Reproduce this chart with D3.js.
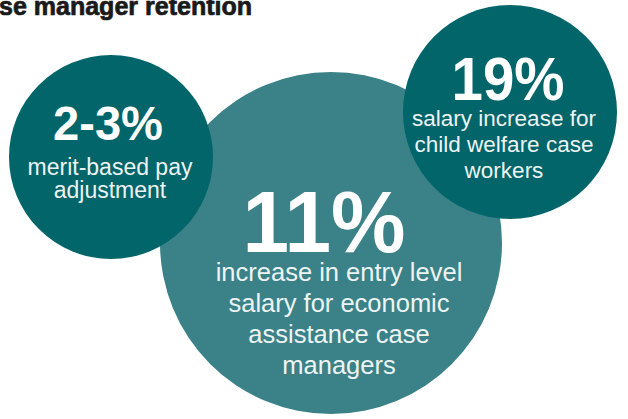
<!DOCTYPE html>
<html>
<head>
<meta charset="utf-8">
<script src="https://cdn.jsdelivr.net/npm/d3@7"></script>
<style>
  html, body { margin: 0; padding: 0; background: #ffffff; }
  svg { display: block; }
</style>
</head>
<body>
<svg id="chart" width="628" height="419"></svg>
<script>
// ---- data ----
const title = "se manager retention";
const stats = ["11%", "2-3%", "19%"];
const descriptions = [
  ["increase in entry level", "salary for economic", "assistance case", "managers"],
  ["merit-based pay", "adjustment"],
  ["salary increase for", "child welfare case", "workers"]
];
const tones = ["light", "dark", "dark"];

// ---- layout (not data) ----
const layout = [
  { cx: 331, cy: 243, r: 171, numX: 324, numY: 252, numSize: 88, numW: 163, txtX: 339, txtY: 281, txtSize: 25.5, lh: 31 },
  { cx: 111, cy: 157, r: 102, numX: 108, numY: 140, numSize: 48, numW: 110, txtX: 110, txtY: 175, txtSize: 23, lh: 23 },
  { cx: 510, cy: 112, r: 107, numX: 508, numY: 100, numSize: 62, numW: 113, txtX: 504, txtY: 126, txtSize: 22.5, lh: 26 }
];
const color = d3.scaleOrdinal().domain(["dark", "light"]).range(["#01656a", "#3a8287"]);

const svg = d3.select("#chart");

svg.append("text")
  .attr("x", -1).attr("y", 15)
  .attr("font-family", "'Liberation Sans Narrow', 'Liberation Sans', Arial, sans-serif")
  .attr("font-weight", "bold")
  .attr("font-size", 25)
  .attr("textLength", 253)
  .attr("lengthAdjust", "spacingAndGlyphs")
  .attr("fill", "#1a1a1a")
  .attr("stroke", "#1a1a1a")
  .attr("stroke-width", 0.7)
  .text(title);

const items = stats.map((s, i) => ({ stat: s, lines: descriptions[i], tone: tones[i], ...layout[i] }));

const g = svg.selectAll("g.bubble").data(items).join("g").attr("class", "bubble");

g.append("circle")
  .attr("cx", d => d.cx).attr("cy", d => d.cy).attr("r", d => d.r)
  .attr("fill", d => color(d.tone));

g.append("text")
  .attr("x", d => d.numX).attr("y", d => d.numY)
  .attr("text-anchor", "middle")
  .attr("font-family", "'Liberation Sans', Arial, sans-serif")
  .attr("font-weight", "bold")
  .attr("font-size", d => d.numSize)
  .attr("textLength", d => d.numW)
  .attr("lengthAdjust", "spacingAndGlyphs")
  .attr("fill", "#ffffff")
  .text(d => d.stat);

g.each(function(d) {
  d3.select(this).selectAll("text.desc").data(d.lines).join("text")
    .attr("class", "desc")
    .attr("x", d.txtX)
    .attr("y", (l, j) => d.txtY + j * d.lh)
    .attr("text-anchor", "middle")
    .attr("font-family", "'Liberation Sans', Arial, sans-serif")
    .attr("font-size", d.txtSize)
    .attr("fill", "#eef4f4")
    .text(l => l);
});
</script>
</body>
</html>
